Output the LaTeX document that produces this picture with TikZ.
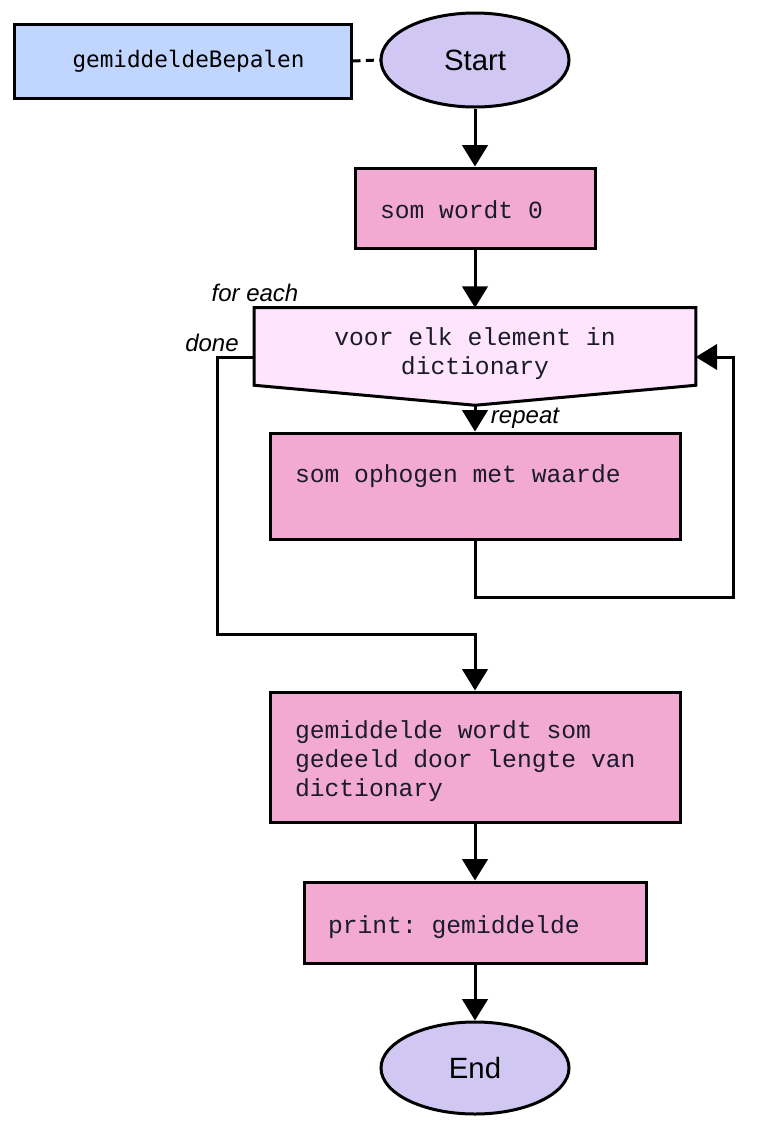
\documentclass[tikz,border=0pt]{standalone}
\usepackage{fontspec}
\setmainfont{Liberation Sans}
\newfontfamily\codefont[WordSpace={1,0,0}]{Liberation Mono}
\newfontfamily\namefont{DejaVu Sans Mono}
\usepackage{tikz}
\usetikzlibrary{arrows.meta,calc,shapes.geometric,backgrounds}
\definecolor{ink}{HTML}{000000}
\definecolor{codeink}{HTML}{1A1A2E}
\definecolor{callblue}{HTML}{C0D6FF}
\definecolor{termlilac}{HTML}{D0C8F2}
\definecolor{procpink}{HTML}{F2AAD3}
\definecolor{looppink}{HTML}{FFE4FD}

\begin{document}
\begin{tikzpicture}[
  x=0.75pt,y=-0.75pt,
  call/.style={rectangle,draw=ink,line width=2.25pt,fill=callblue,minimum width=252.75pt,minimum height=55.5pt,font=\namefont\fontsize{17}{20}\selectfont},
  terminal/.style={ellipse,draw=ink,line width=2.25pt,fill=termlilac,minimum width=141pt,minimum height=70.5pt,inner sep=0pt,font=\fontsize{22}{26}\selectfont},
  process/.style={rectangle,draw=ink,line width=2.25pt,fill=procpink,inner xsep=18.75pt,align=left,text height=16pt,text=codeink,font=\codefont\fontsize{18.5}{21.75}\selectfont,execute at begin node={\frenchspacing\spaceskip=0pt\xspaceskip=0pt}},
  loopbox/.style={rectangle,minimum width=330.75pt,minimum height=57.75pt,align=center,text height=46pt,text=codeink,font=\codefont\fontsize{18.5}{21.75}\selectfont},
  loopshape/.style={draw=ink,line width=2.25pt,fill=looppink,line join=miter},
  note/.style={font=\itshape\fontsize{18}{21}\selectfont,inner sep=0pt},
  edge/.style={-{Triangle[length=16pt,width=19pt]},draw=ink,line width=2.25pt},
  wire/.style={draw=ink,line width=2.25pt}
]
\useasboundingbox (0,0) rectangle (773,1129);

\node[call] (func) at (182.5,61) {\hspace*{9pt}gemiddeldeBepalen};
\node[terminal] (start) at (475,60) {Start};
\node[process,minimum width=180pt,minimum height=60pt,text width=142.5pt] (init) at (475,208) {som wordt 0};
\node[loopbox] (loop) at (475,346.5) {voor elk element in\\dictionary};
\coordinate (looptip) at ($(loop.south)+(0,20)$);
\node[process,minimum width=307.5pt,minimum height=79.5pt,text width=270pt,text depth=21pt] (add) at (475,486) {som ophogen met waarde};
\node[process,minimum width=307.5pt,minimum height=97.5pt,text width=270pt,text height=20pt] (mean) at (475,757) {gemiddelde wordt som\\gedeeld door lengte van\\dictionary};
\node[process,minimum width=256.5pt,minimum height=60.75pt,text width=220.5pt,inner xsep=18pt,text height=20pt] (out) at (475,922.5) {print: gemiddelde};
\node[terminal,minimum height=69pt] (end) at (475,1068) {End};

\node[note] (foreach) at (255,293) {for each};
\node[note] (done) at (212,343) {done};
\node[note] (repeat) at (525,418) {repeat};

\begin{scope}[on background layer]
\draw[loopshape] (loop.north west) -- (loop.north east) -- (loop.south east) -- (looptip) -- (loop.south west) -- cycle;
\end{scope}

\coordinate (back) at (733,597);
\coordinate (exit) at (217,634);

\draw[wire,dash pattern=on 6pt off 4pt] (func.east) -- (start.west);
\foreach \a/\b in {start/init,init/loop,looptip/add,mean/out,out/end}
  \draw[edge] (\a) -- (\b);
\draw[edge] (add.south) |- (back) |- ($(loop.east)+(0,10.5)$);
\draw[edge] ($(loop.west)+(0,10.5)$) -| (exit) -| (mean.north);
\end{tikzpicture}
\end{document}
